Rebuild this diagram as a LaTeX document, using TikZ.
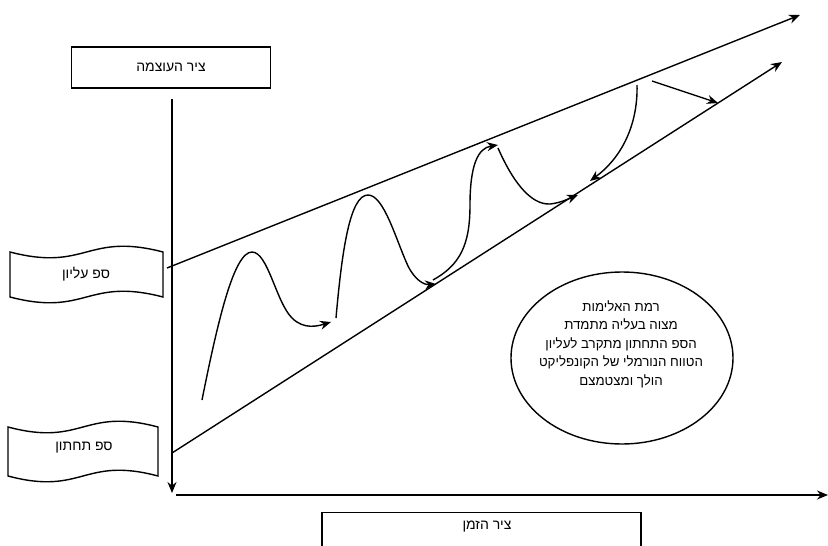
\documentclass[tikz,border=0pt]{standalone}
\usepackage{fontspec}
\TeXXeTstate=1
\newfontfamily\hebfont[Script=Hebrew]{Liberation Sans}
\usetikzlibrary{arrows.meta,shapes.geometric}
\tikzset{
  ln/.style={line width=1.4pt, black},
  arr/.style={ln, -{Stealth[length=11pt,width=9pt]}},
  boxst/.style={draw, ln, rectangle, inner sep=0pt},
  lbl/.style={font=\hebfont\fontsize{14}{16}\selectfont, inner sep=1pt},
  bubble/.style={draw, ln, ellipse, minimum width=222pt, minimum height=172pt, inner sep=0pt},
  bubtext/.style={align=center, font=\hebfont\fontsize{13.3}{18.5}\selectfont, inner sep=0pt}
}
\begin{document}
\begin{tikzpicture}[x=1pt,y=-1pt]
\useasboundingbox (0,0) rectangle (828,546);
\clip (0,0) rectangle (828,546);

% axis boxes
\node[boxst, minimum width=199pt, minimum height=41pt, lbl] (pbox) at (171,67.5) {\beginR ציר העוצמה\endR};
\node[boxst, minimum width=319pt, minimum height=50pt, anchor=north] (tbox) at (481.5,512) {};
\node[lbl] (tlbl) at (487,527) {\beginR ציר הזמן\endR};

% flags
\draw[ln] (10,252) .. controls (86.5,272) and (86.5,232) .. (163,252) -- (163,297)
   .. controls (86.5,277) and (86.5,317) .. (10,297) -- cycle;
\node[lbl] (upper) at (86,274) {\beginR ספ עליון\endR};
\draw[ln] (8,427) .. controls (83,447) and (83,407) .. (158,427) -- (158,476)
   .. controls (83,456) and (83,496) .. (8,476) -- cycle;
\node[lbl] (lower) at (84,448) {\beginR ספ תחתון\endR};

% axes
\coordinate (vtop) at (172,99);
\coordinate (vbot) at (172,493);
\coordinate (hl) at (176,495);
\coordinate (hr) at (828,495);
\draw[arr] (vtop) -- (vbot);
\draw[arr] (hl) -- (hr);

% boundary lines
\coordinate (us) at (167,268);
\coordinate (ue) at (800,15);
\coordinate (ls) at (172,453);
\coordinate (le) at (782,62);
\draw[arr] (us) -- (ue);
\draw[arr] (ls) -- (le);

% ellipse
\node[bubble] (note) at (622,358) {};
\node[bubtext] (notetext) at (621,344) {\beginR רמת האלימות\endR\\ \beginR מצוה בעליה מתמדת\endR\\ \beginR הספ התחתון מתקרב לעליון\endR\\ \beginR הטווח הנורמלי של הקונפליקט\endR\\ \beginR הולך ומצטמצם\endR};

% curves
\coordinate (c1s) at (202,400);
\coordinate (c1e) at (331,322);
\draw[arr] (c1s) .. controls (218,320) and (234,252) .. (252,252)
  .. controls (268,252) and (276,302) .. (292,318)
  .. controls (304,330) and (318,326) .. (c1e);

\coordinate (c2s) at (336,318);
\coordinate (c2e) at (436,284);
\draw[arr] (c2s) .. controls (342,250) and (350,195) .. (368,195)
  .. controls (384,195) and (396,240) .. (408,266)
  .. controls (415,280) and (424,285) .. (c2e);

\coordinate (c3s) at (433,280);
\coordinate (c3e) at (498,145);
\draw[arr] (c3s) .. controls (460,265) and (470,245) .. (470,205)
  .. controls (470,165) and (478,148) .. (c3e);

\coordinate (c4s) at (498,148);
\coordinate (c4e) at (578,195);
\draw[arr] (c4s) .. controls (512,180) and (530,205) .. (550,204)
  .. controls (560,203) and (568,199) .. (c4e);

\coordinate (c5s) at (637,85);
\coordinate (c5e) at (590,181);
\draw[arr] (c5s) .. controls (638,120) and (625,155) .. (c5e);

\coordinate (c6s) at (652,81);
\coordinate (c6e) at (718,103);
\draw[arr] (c6s) -- (c6e);
\end{tikzpicture}
\end{document}
